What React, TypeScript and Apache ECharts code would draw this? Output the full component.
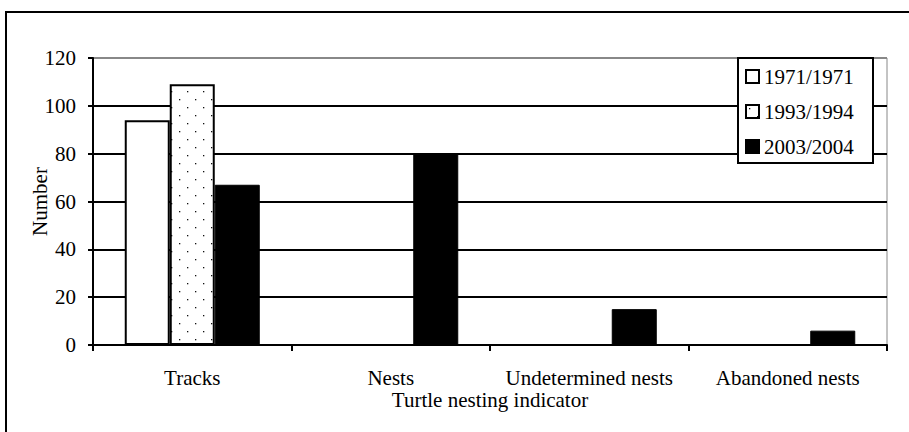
import React, { useEffect, useRef } from "react";
import * as echarts from "echarts";

const categories = ["Tracks", "Nests", "Undetermined nests", "Abandoned nests"];
const seriesNames = ["1971/1971", "1993/1994", "2003/2004"];
const values1971 = [94, 0, 0, 0];
const values1993 = [109, 0, 0, 0];
const values2003 = [67, 80, 15, 6];
const yMin = 0;
const yMax = 120;
const yInterval = 20;

const FONT = "'Liberation Serif', 'Times New Roman', serif";

function makeDots(): HTMLCanvasElement {
  const c = document.createElement("canvas");
  c.width = 16;
  c.height = 16;
  const ctx = c.getContext("2d")!;
  ctx.fillStyle = "#fff";
  ctx.fillRect(0, 0, 16, 16);
  ctx.fillStyle = "#111";
  ctx.fillRect(3, 3, 1.3, 1.3);
  ctx.fillRect(11, 11, 1.3, 1.3);
  return c;
}

export default function App() {
  const ref = useRef<HTMLDivElement>(null);
  useEffect(() => {
    if (!ref.current) return;
    const chart = echarts.init(ref.current, undefined, { renderer: "svg" });
    const dots = makeDots();
    chart.setOption({
      animation: false,
      backgroundColor: "#fff",
      textStyle: { fontFamily: FONT },
      graphic: [
        {
          type: "rect",
          shape: { x: 6, y: 12, width: 1000, height: 600 },
          style: { fill: "none", stroke: "#000", lineWidth: 2 },
          silent: true,
          z: 0,
        },
        {
          type: "rect",
          shape: { x: 738, y: 58, width: 135, height: 105 },
          style: { fill: "#fff", stroke: "#000", lineWidth: 2 },
          silent: true,
          z: 5,
        },
      ],
      grid: {
        left: 93,
        right: 22,
        top: 58,
        bottom: 87,
        show: true,
        borderColor: "#888",
        borderWidth: 1,
        backgroundColor: "transparent",
      },
      legend: {
        orient: "vertical",
        left: 745,
        top: 66,
        padding: 0,
        z: 6,
        itemGap: 14,
        itemWidth: 13,
        itemHeight: 13,
        icon: "rect",
        textStyle: { fontFamily: FONT, fontSize: 21, color: "#000" },
        data: seriesNames,
      },
      xAxis: {
        type: "category",
        data: categories,
        name: "Turtle nesting indicator",
        nameLocation: "middle",
        nameGap: 44,
        nameMoveOverlap: false,
        nameTextStyle: { fontFamily: FONT, fontSize: 21, color: "#000" },
        axisLine: { lineStyle: { color: "#000", width: 2 } },
        axisTick: { show: true, length: 6, lineStyle: { color: "#000", width: 2 } },
        axisLabel: { interval: 0, fontFamily: FONT, fontSize: 21, color: "#000", margin: 22 },
      },
      yAxis: {
        type: "value",
        min: yMin,
        max: yMax,
        interval: yInterval,
        name: "Number",
        nameLocation: "middle",
        nameGap: 43,
        nameMoveOverlap: false,
        nameTextStyle: { fontFamily: FONT, fontSize: 21, color: "#000" },
        axisLine: { show: true, lineStyle: { color: "#000", width: 2 } },
        axisTick: { show: true, length: 5, lineStyle: { color: "#000", width: 2 } },
        axisLabel: { fontFamily: FONT, fontSize: 21, color: "#000", margin: 17 },
        splitLine: {
          show: true,
          lineStyle: { color: ["#000", "#000", "#000", "#000", "#000", "#000", "#888"], width: 2 },
        },
      },
      series: [
        {
          name: seriesNames[0],
          type: "bar",
          data: values1971,
          barWidth: 45,
          barGap: "0%",
          itemStyle: { color: "#fff", borderColor: "#000", borderWidth: 2 },
        },
        {
          name: seriesNames[1],
          type: "bar",
          data: values1993,
          barWidth: 45,
          barGap: "0%",
          itemStyle: {
            color: { image: dots, repeat: "repeat" },
            borderColor: "#000",
            borderWidth: 2,
          },
        },
        {
          name: seriesNames[2],
          type: "bar",
          data: values2003,
          barWidth: 45,
          barGap: "0%",
          itemStyle: { color: "#000", borderColor: "#000", borderWidth: 1 },
        },
      ],
    });
    return () => chart.dispose();
  }, []);
  return (
    <div
      ref={ref}
      style={{ position: "absolute", left: 0, top: 0, width: 909, height: 432 }}
    />
  );
}
